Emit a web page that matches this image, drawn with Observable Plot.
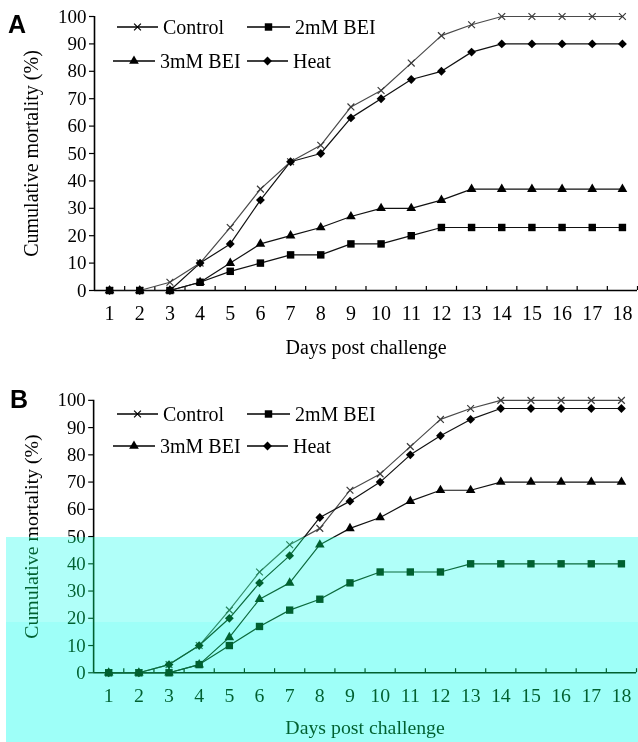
<!DOCTYPE html>
<html><head><meta charset="utf-8">
<script src="https://cdn.jsdelivr.net/npm/d3@7"></script>
<script src="https://cdn.jsdelivr.net/npm/@observablehq/plot@0.6"></script>
<style>
body{margin:0;background:#fff}
#root{position:relative;width:638px;height:742px;overflow:hidden;background:#fff;font-family:"Liberation Serif","Times New Roman",serif;color:#000}
.panel{position:absolute;left:0}
.lab{position:absolute;font-family:"Liberation Sans",Arial,sans-serif;font-weight:bold;font-size:25px;line-height:1}
.leg{position:absolute;height:20px;display:flex;align-items:center;font-size:20px;line-height:20px;white-space:nowrap}
.leg svg{display:block;margin-right:5px}
.ov{position:absolute;left:6px;width:632px;pointer-events:none}
</style></head><body><div id="root"></div>
<script>
// ---- data ----
const days = [1,2,3,4,5,6,7,8,9,10,11,12,13,14,15,16,17,18];
const seriesNames = ["Control","2mM BEI","3mM BEI","Heat"];
const yTicks = [0,10,20,30,40,50,60,70,80,90,100];
const xTitle = "Days post challenge";
const yTitle = "Cumulative mortality (%)";
// Panel A
const A_control = [0,0,3,10,23,37,47,53,67,73,83,93,97,100,100,100,100,100];
const A_bei2    = [0,0,0,3,7,10,13,13,17,17,20,23,23,23,23,23,23,23];
const A_bei3    = [0,0,0,3,10,17,20,23,27,30,30,33,37,37,37,37,37,37];
const A_heat    = [0,0,0,10,17,33,47,50,63,70,77,80,87,90,90,90,90,90];
// Panel B
const B_control = [0,0,3,10,23,37,47,53,67,73,83,93,97,100,100,100,100,100];
const B_bei2    = [0,0,0,3,10,17,23,27,33,37,37,37,40,40,40,40,40,40];
const B_bei3    = [0,0,0,3,13,27,33,47,53,57,63,67,67,70,70,70,70,70];
const B_heat    = [0,0,3,10,20,33,43,57,63,70,80,87,93,97,97,97,97,97];

// ---- styles ----
const styles = {
  "Control": {symbol:"times", r:3.2, fill:"none", stroke:"#3a3a3a", line:"#4a4a4a"},
  "2mM BEI": {symbol:"square", r:4.2, fill:"#000", stroke:"none", line:"#111"},
  "3mM BEI": {symbol:"triangle", r:3.6, fill:"#000", stroke:"none", line:"#111"},
  "Heat":    {symbol:"diamond2", r:4.0, fill:"#000", stroke:"none", line:"#111"}
};
const boundaries = d3.range(1.5, 19, 1);

function panel(vals, o){
  const rows = [];
  seriesNames.forEach((s,i)=> vals[i].forEach((v,j)=> rows.push({series:s, day:days[j], value:v})));
  const marks = [
    Plot.ruleY([0], {stroke:"#000", strokeWidth:1.6}),
    Plot.ruleX([0.5], {stroke:"#000", strokeWidth:1.6}),
    Plot.ruleX(boundaries, {y1:0, y2:1.5, stroke:"#000", strokeWidth:1.2}),
    Plot.axisY({ticks: yTicks, tickSize:5, tickPadding:3, fontSize:19, label:null, strokeWidth:1.2}),
    Plot.axisX({ticks: days, tickSize:0, tickPadding:15, fontSize:20, label:null}),
    Plot.text([xTitle], {frameAnchor:"bottom", dy:o.tdy, fontSize:20}),
    Plot.text([yTitle], {frameAnchor:"left", dx:-63, rotate:-90, textAnchor:"middle", fontSize:20})
  ];
  seriesNames.forEach(s=>{
    const st = styles[s];
    const d = rows.filter(r=>r.series===s);
    marks.push(Plot.line(d, {x:"day", y:"value", stroke:st.line, strokeWidth:1.2}));
  });
  seriesNames.forEach(s=>{
    const st = styles[s];
    const d = rows.filter(r=>r.series===s);
    marks.push(Plot.dot(d, {x:"day", y:"value", symbol:st.symbol, r:st.r, fill:st.fill,
      stroke:st.stroke, strokeWidth: st.symbol==="times" ? 1.2 : 0}));
  });
  return Plot.plot({
    width:o.width, height:o.height,
    marginLeft:94, marginRight:o.mr, marginTop:16, marginBottom:o.mb,
    style:{fontFamily:'"Liberation Serif","Times New Roman",serif', color:"#000", background:"transparent", overflow:"visible"},
    x:{domain:[0.5,18.5]},
    y:{domain:[0,100]},
    marks
  });
}

const root = document.getElementById("root");
function place(el, top){ const w=document.createElement("div"); w.className="panel"; w.style.top=top+"px"; w.appendChild(el); root.appendChild(w); }

place(panel([A_control,A_bei2,A_bei3,A_heat], {width:638, height:360, mr:1, mb:70, tdy:63}), 0);
place(panel([B_control,B_bei2,B_bei3,B_heat], {width:644, height:358, mr:2, mb:67, tdy:62}), 384);

// legends
const symTypes = {times:d3.symbolTimes, square:d3.symbolSquare, triangle:d3.symbolTriangle, diamond2:d3.symbolDiamond2};
function legendItem(name, left, cy, lineW){
  const st = styles[name];
  const div = document.createElement("div");
  div.className = "leg";
  div.style.left = left+"px";
  div.style.top = (cy-10)+"px";
  const size = Math.PI*st.r*st.r;
  const p = d3.symbol(symTypes[st.symbol], size)();
  div.innerHTML = `<svg width="${lineW}" height="20"><line x1="0" x2="${lineW}" y1="10" y2="10" stroke="#000" stroke-width="1.3"/>`+
    `<path transform="translate(${lineW/2},10)" d="${p}" fill="${st.fill}" stroke="${st.stroke==='none'?'none':'#000'}" stroke-width="1.2"/></svg>`+
    `<span>${name}</span>`;
  root.appendChild(div);
}
function legend(r1, r2){
  legendItem("Control", 117, r1, 41);
  legendItem("2mM BEI", 247, r1, 43);
  legendItem("3mM BEI", 113, r2, 42);
  legendItem("Heat", 247, r2, 41);
}
legend(27, 61);
legend(414, 446);

// panel labels
[["A",8,12],["B",10,387]].forEach(([t,l,tp])=>{
  const d=document.createElement("div"); d.className="lab"; d.textContent=t; d.style.left=l+"px"; d.style.top=tp+"px"; root.appendChild(d);
});

// cyan overlay bands on the lower part of panel B
[[537,85,"#b0fff8"],[622,120,"#9efff6"]].forEach(([t,h,c])=>{
  const m=document.createElement("div"); m.className="ov"; m.style.top=t+"px"; m.style.height=h+"px";
  m.style.background=c; m.style.mixBlendMode="multiply"; root.appendChild(m);
  const s=document.createElement("div"); s.className="ov"; s.style.top=t+"px"; s.style.height=h+"px";
  s.style.background="#006030"; s.style.mixBlendMode="screen"; root.appendChild(s);
});
</script></body></html>
